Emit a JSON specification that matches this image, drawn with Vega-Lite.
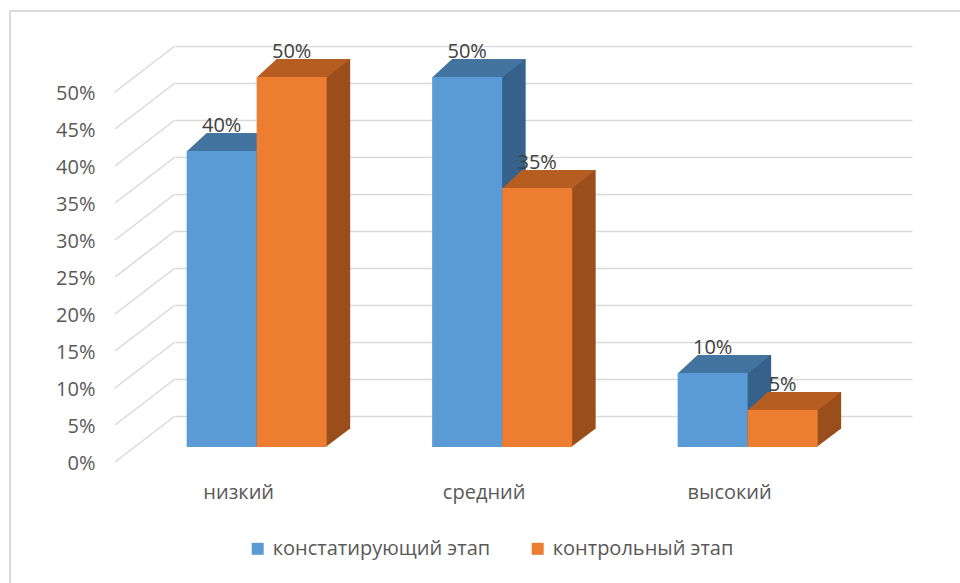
{
  "$schema": "https://vega.github.io/schema/vega-lite/v6.json",
  "width": 737,
  "height": 370,
  "autosize": {"type": "none"},
  "padding": {"left": 175, "top": 46, "right": 48, "bottom": 167},
  "background": "white",
  "config": {"view": {"stroke": null}, "font": "Open Sans"},
  "datasets": {
    "bars": [
      {"category": "низкий", "series": "констатирующий этап", "value": 0.40},
      {"category": "низкий", "series": "контрольный этап", "value": 0.50},
      {"category": "средний", "series": "констатирующий этап", "value": 0.50},
      {"category": "средний", "series": "контрольный этап", "value": 0.35},
      {"category": "высокий", "series": "констатирующий этап", "value": 0.10},
      {"category": "высокий", "series": "контрольный этап", "value": 0.05}
    ],
    "ticks": [
      {"value": 0}, {"value": 0.05}, {"value": 0.1}, {"value": 0.15}, {"value": 0.2}, {"value": 0.25},
      {"value": 0.3}, {"value": 0.35}, {"value": 0.4}, {"value": 0.45}, {"value": 0.5}
    ],
    "frame": [
      {"edge": "frame", "value": 0.5}
    ]
  },
  "data": {"name": "bars"},
  "encoding": {
    "x": {
      "field": "category",
      "type": "nominal",
      "scale": {"domain": ["низкий", "средний", "высокий"], "paddingInner": 0.4297, "paddingOuter": 0.2159, "align": 0.11},
      "axis": {"title": null, "labelAngle": 0, "domain": false, "ticks": false, "tickSize": 0, "grid": false, "labelPadding": 76, "labelOffset": -18, "labelBaseline": "middle", "labelFont": "Open Sans", "labelFontSize": 20, "labelColor": "#595959"}
    },
    "y": {
      "field": "value",
      "type": "quantitative",
      "scale": {"domain": [0, 0.5], "nice": false},
      "axis": {"title": null, "values": [0, 0.05, 0.1, 0.15, 0.2, 0.25, 0.3, 0.35, 0.4, 0.45, 0.5], "format": ".0%", "grid": true, "gridColor": "#D9D9D9", "gridWidth": 1.5, "domain": false, "ticks": false, "tickSize": 0, "offset": 60, "labelPadding": 20, "labelOffset": 47, "labelFont": "Open Sans", "labelFontSize": 20, "labelColor": "#595959"}
    }
  },
  "layer": [
    {
      "data": {"name": "ticks"},
      "mark": {"type": "rule", "color": "#D9D9D9", "strokeWidth": 1.5, "xOffset": -141.7, "x2Offset": -81.7, "yOffset": 46, "y2Offset": 0},
      "encoding": {
        "x": {"datum": "низкий", "type": "nominal"},
        "x2": {"datum": "низкий"},
        "y2": {"field": "value"}
      }
    },
    {
      "data": {"name": "frame"},
      "mark": {"type": "rule", "color": "#D9D9D9", "strokeWidth": 2, "xOffset": -246.7, "x2Offset": 212.3, "yOffset": -35, "y2Offset": -35},
      "encoding": {
        "x": {"datum": "низкий", "type": "nominal"},
        "x2": {"datum": "высокий"},
        "y2": {"field": "value"}
      }
    },
    {
      "data": {"name": "frame"},
      "mark": {"type": "rule", "color": "#D9D9D9", "strokeWidth": 2, "xOffset": -246.7, "x2Offset": -246.7, "yOffset": -35, "y2Offset": 167},
      "encoding": {
        "x": {"datum": "низкий", "type": "nominal"},
        "x2": {"datum": "низкий"},
        "y2": {"datum": 0}
      }
    },
    {
      "transform": [{"filter": "datum.series === 'констатирующий этап'"}],
      "mark": {"type": "bar", "width": 24.5, "xOffset": 11.25, "yOffset": 13, "y2Offset": 13, "color": "#35618A"},
      "encoding": {"y2": {"datum": 0}}
    },
    {
      "transform": [{"filter": "datum.series === 'контрольный этап'"}],
      "mark": {"type": "bar", "width": 24.5, "xOffset": 81.25, "yOffset": 13, "y2Offset": 13, "color": "#9A4E1C"},
      "encoding": {"y2": {"datum": 0}}
    },
    {
      "mark": {"type": "point", "shape": "M 0.9714 0 L 0.9714 -0.5286 L 1.6714 -0.5286 Z", "size": 4900, "filled": true, "opacity": 1, "strokeWidth": 0, "yOffset": 31},
      "encoding": {
        "xOffset": {"field": "series", "type": "nominal", "scale": {"domain": ["констатирующий этап", "контрольный этап"], "paddingInner": 0, "paddingOuter": 0}},
        "y": {"datum": 0, "type": "quantitative"},
        "color": {"condition": {"test": "datum.series === 'констатирующий этап'", "value": "#35618A"}, "value": "#9A4E1C"}
      }
    },
    {
      "mark": {"type": "point", "shape": "M -1 0.0143 L 1 0.0143 L 1.6714 -0.5143 L -0.4286 -0.5143 Z", "size": 4900, "filled": true, "opacity": 1, "strokeWidth": 0, "yOffset": 31},
      "encoding": {
        "xOffset": {"field": "series", "type": "nominal", "scale": {"domain": ["констатирующий этап", "контрольный этап"], "paddingInner": 0, "paddingOuter": 0}},
        "color": {"condition": {"test": "datum.series === 'констатирующий этап'", "value": "#43739F"}, "value": "#B65E22"}
      }
    },
    {
      "mark": {"type": "bar", "yOffset": 31, "y2Offset": 31},
      "encoding": {
        "xOffset": {"field": "series", "type": "nominal", "scale": {"domain": ["констатирующий этап", "контрольный этап"], "paddingInner": 0, "paddingOuter": 0}},
        "y2": {"datum": 0},
        "color": {
          "field": "series",
          "type": "nominal",
          "scale": {"domain": ["констатирующий этап", "контрольный этап"], "range": ["#5B9BD5", "#ED7D31"]},
          "legend": {"title": null, "orient": "none", "legendX": 72.7, "legendY": 492.8, "direction": "horizontal", "padding": 0, "symbolType": "square", "symbolSize": 144, "symbolStrokeWidth": 0, "labelFont": "Open Sans", "labelFontSize": 20, "labelColor": "#595959", "labelOffset": 5, "labelLimit": 0, "columnPadding": 37}
        }
      }
    },
    {
      "mark": {"type": "text", "yOffset": 6, "baseline": "middle", "align": "center", "font": "Open Sans", "fontSize": 20, "color": "#404040"},
      "encoding": {
        "xOffset": {"field": "series", "type": "nominal", "scale": {"domain": ["констатирующий этап", "контрольный этап"], "paddingInner": 0, "paddingOuter": 0}},
        "text": {"field": "value", "type": "quantitative", "format": ".0%"}
      }
    }
  ]
}
